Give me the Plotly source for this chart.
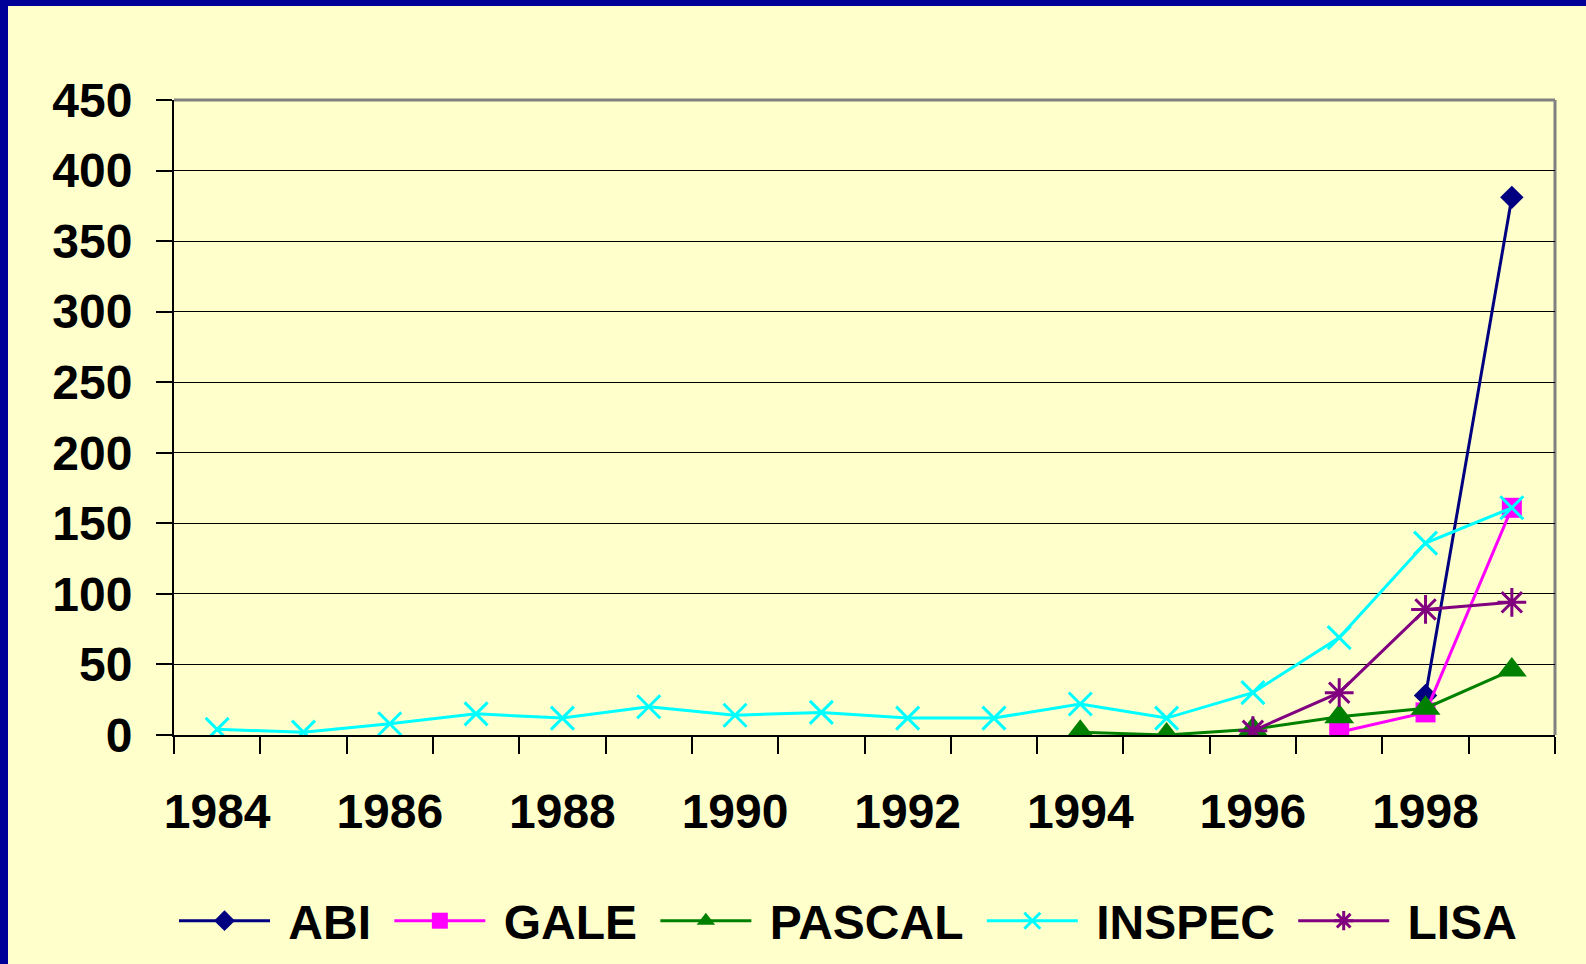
import plotly.graph_objects as go

years = list(range(1984, 2000))
tick_years = [1984, 1986, 1988, 1990, 1992, 1994, 1996, 1998]
tick_labels = [str(y) for y in tick_years]

abi = [None] * 14 + [28, 381]
gale = [None] * 13 + [2, 16, 161]
pascal = [None] * 10 + [2, 0, 4, 13, 19, 46]
inspec = [4, 2, 8, 15, 12, 20, 14, 16, 12, 12, 22, 12, 30, 69, 136, 161]
lisa = [None] * 12 + [3, 30, 89, 94]

W, H = 1586, 964
L, R, T, B = 174, 31, 100, 229
PW, PH = W - L - R, H - T - B

series = [
    ("ABI", abi, "#000080", dict(symbol="diamond", size=18)),
    ("GALE", gale, "#FF00FF", dict(symbol="square", size=20)),
    ("PASCAL", pascal, "#008000", dict(symbol="triangle-up", size=26)),
    ("INSPEC", inspec, "#00FFFF", dict(symbol="x-thin-open", size=23, line=dict(width=3, color="#00FFFF"))),
    ("LISA", lisa, "#800080", dict(symbol="asterisk-open", size=24, line=dict(width=3, color="#800080"))),
]

NB = "\u00a0"
fig = go.Figure()
for name, vals, color, mk in series:
    mk = dict(mk)
    mk["color"] = color
    fig.add_trace(go.Scatter(
        x=years, y=vals, name=NB + name + NB, mode="lines+markers",
        line=dict(color=color, width=3), marker=mk, connectgaps=False,
    ))

font_fam = "Liberation Sans, Arial, sans-serif"

def px_x(p):
    return (p - L) / PW

def px_y(p):
    return (H - B - p) / PH

blue = "#000099"
shapes = [
    dict(type="rect", xref="paper", yref="paper", x0=px_x(0), x1=px_x(8), y0=px_y(H), y1=px_y(0),
         fillcolor=blue, line=dict(width=0), layer="above"),
    dict(type="rect", xref="paper", yref="paper", x0=px_x(0), x1=px_x(W), y0=px_y(6), y1=px_y(0),
         fillcolor=blue, line=dict(width=0), layer="above"),
    dict(type="line", xref="paper", yref="paper", x0=0, x1=1, y0=1, y1=1,
         line=dict(color="#808080", width=3), layer="below"),
    dict(type="line", xref="paper", yref="paper", x0=1, x1=1, y0=0, y1=1,
         line=dict(color="#808080", width=3), layer="below"),
]

fig.update_layout(
    width=W, height=H,
    margin=dict(l=L, r=R, t=T, b=B),
    paper_bgcolor="#FFFFCC", plot_bgcolor="#FFFFCC",
    shapes=shapes,
    showlegend=True,
    legend=dict(
        orientation="h", xref="container", yref="container",
        x=174 / W, xanchor="left", y=1 - 921 / H, yanchor="middle",
        font=dict(family=font_fam, size=48, color="black", weight="bold"),
        bgcolor="rgba(0,0,0,0)", itemwidth=91, tracegroupgap=0,
    ),
    xaxis=dict(
        range=[1983.5, 1999.5], tickmode="array", tickvals=tick_years, ticktext=tick_labels,
        ticks="outside", ticklen=17, tickcolor="rgba(0,0,0,0)",
        ticklabelstandoff=16,
        tickfont=dict(family=font_fam, size=48, color="black", weight="bold"),
        showgrid=False, zeroline=False, showline=True, linecolor="black", linewidth=2,
        minor=dict(tickmode="linear", tick0=1983.5, dtick=1, ticks="outside", ticklen=17,
                   tickcolor="black", tickwidth=1.5, showgrid=False),
        automargin=False,
    ),
    yaxis=dict(
        range=[0, 450], tickmode="linear", tick0=0, dtick=50,
        ticks="outside", ticklen=16, tickcolor="black", tickwidth=1.5,
        ticklabelstandoff=14,
        tickfont=dict(family=font_fam, size=48, color="black", weight="bold"),
        showgrid=True, gridcolor="black", gridwidth=1,
        zeroline=False, showline=True, linecolor="black", linewidth=2,
        automargin=False,
    ),
)

fig.write_html("out.html", config={"displayModeBar": False},
               post_script="document.body.style.margin='0';document.body.style.overflow='hidden';")
